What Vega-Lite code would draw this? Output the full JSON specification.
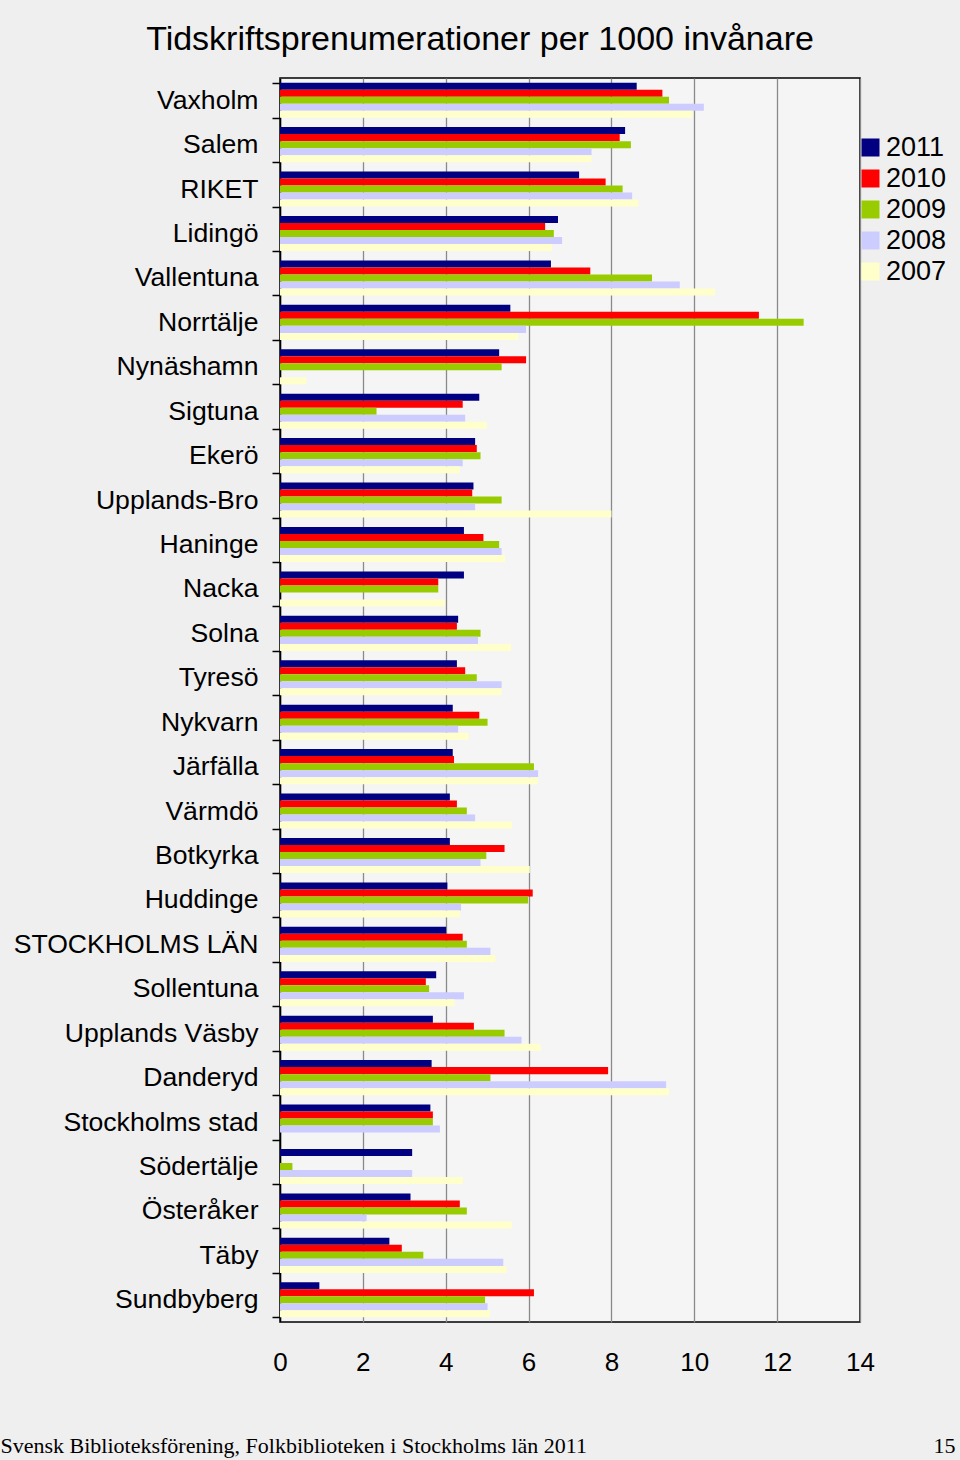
{
  "$schema": "https://vega.github.io/schema/vega-lite/v6.json",
  "autosize": "none",
  "width": 580,
  "height": 1244,
  "padding": {"left": 280, "top": 78, "right": 100, "bottom": 138},
  "background": "#efefef",
  "title": {"text": "Tidskriftsprenumerationer per 1000 invånare", "font": "Liberation Sans", "fontSize": 34, "fontWeight": "normal", "color": "#000000", "anchor": "middle", "dx": -90, "offset": 8},
  "config": {"view": {"stroke": "#000000", "strokeWidth": 1.5, "fill": "#f5f5f5"}, "font": "Liberation Sans"},
  "datasets": {
    "rows": [
      {"kommun": "Vaxholm", "year": "2011", "value": 8.61}, {"kommun": "Vaxholm", "year": "2010", "value": 9.23}, {"kommun": "Vaxholm", "year": "2009", "value": 9.39}, {"kommun": "Vaxholm", "year": "2008", "value": 10.23}, {"kommun": "Vaxholm", "year": "2007", "value": 9.96},
      {"kommun": "Salem", "year": "2011", "value": 8.33}, {"kommun": "Salem", "year": "2010", "value": 8.20}, {"kommun": "Salem", "year": "2009", "value": 8.47}, {"kommun": "Salem", "year": "2008", "value": 7.52}, {"kommun": "Salem", "year": "2007", "value": 7.52},
      {"kommun": "RIKET", "year": "2011", "value": 7.22}, {"kommun": "RIKET", "year": "2010", "value": 7.86}, {"kommun": "RIKET", "year": "2009", "value": 8.27}, {"kommun": "RIKET", "year": "2008", "value": 8.50}, {"kommun": "RIKET", "year": "2007", "value": 8.65},
      {"kommun": "Lidingö", "year": "2011", "value": 6.71}, {"kommun": "Lidingö", "year": "2010", "value": 6.40}, {"kommun": "Lidingö", "year": "2009", "value": 6.61}, {"kommun": "Lidingö", "year": "2008", "value": 6.81}, {"kommun": "Lidingö", "year": "2007", "value": 6.56},
      {"kommun": "Vallentuna", "year": "2011", "value": 6.54}, {"kommun": "Vallentuna", "year": "2010", "value": 7.49}, {"kommun": "Vallentuna", "year": "2009", "value": 8.98}, {"kommun": "Vallentuna", "year": "2008", "value": 9.65}, {"kommun": "Vallentuna", "year": "2007", "value": 10.50},
      {"kommun": "Norrtälje", "year": "2011", "value": 5.56}, {"kommun": "Norrtälje", "year": "2010", "value": 11.56}, {"kommun": "Norrtälje", "year": "2009", "value": 12.64}, {"kommun": "Norrtälje", "year": "2008", "value": 5.94}, {"kommun": "Norrtälje", "year": "2007", "value": 5.75},
      {"kommun": "Nynäshamn", "year": "2011", "value": 5.29}, {"kommun": "Nynäshamn", "year": "2010", "value": 5.94}, {"kommun": "Nynäshamn", "year": "2009", "value": 5.35}, {"kommun": "Nynäshamn", "year": "2007", "value": 0.64},
      {"kommun": "Sigtuna", "year": "2011", "value": 4.81}, {"kommun": "Sigtuna", "year": "2010", "value": 4.41}, {"kommun": "Sigtuna", "year": "2009", "value": 2.33}, {"kommun": "Sigtuna", "year": "2008", "value": 4.47}, {"kommun": "Sigtuna", "year": "2007", "value": 4.99},
      {"kommun": "Ekerö", "year": "2011", "value": 4.71}, {"kommun": "Ekerö", "year": "2010", "value": 4.75}, {"kommun": "Ekerö", "year": "2009", "value": 4.84}, {"kommun": "Ekerö", "year": "2008", "value": 4.41}, {"kommun": "Ekerö", "year": "2007", "value": 4.34},
      {"kommun": "Upplands-Bro", "year": "2011", "value": 4.67}, {"kommun": "Upplands-Bro", "year": "2010", "value": 4.64}, {"kommun": "Upplands-Bro", "year": "2009", "value": 5.35}, {"kommun": "Upplands-Bro", "year": "2008", "value": 4.71}, {"kommun": "Upplands-Bro", "year": "2007", "value": 8.00},
      {"kommun": "Haninge", "year": "2011", "value": 4.44}, {"kommun": "Haninge", "year": "2010", "value": 4.91}, {"kommun": "Haninge", "year": "2009", "value": 5.29}, {"kommun": "Haninge", "year": "2008", "value": 5.35}, {"kommun": "Haninge", "year": "2007", "value": 5.43},
      {"kommun": "Nacka", "year": "2011", "value": 4.44}, {"kommun": "Nacka", "year": "2010", "value": 3.82}, {"kommun": "Nacka", "year": "2009", "value": 3.82}, {"kommun": "Nacka", "year": "2007", "value": 3.98},
      {"kommun": "Solna", "year": "2011", "value": 4.30}, {"kommun": "Solna", "year": "2010", "value": 4.27}, {"kommun": "Solna", "year": "2009", "value": 4.84}, {"kommun": "Solna", "year": "2008", "value": 4.78}, {"kommun": "Solna", "year": "2007", "value": 5.58},
      {"kommun": "Tyresö", "year": "2011", "value": 4.27}, {"kommun": "Tyresö", "year": "2010", "value": 4.47}, {"kommun": "Tyresö", "year": "2009", "value": 4.75}, {"kommun": "Tyresö", "year": "2008", "value": 5.35}, {"kommun": "Tyresö", "year": "2007", "value": 5.35},
      {"kommun": "Nykvarn", "year": "2011", "value": 4.17}, {"kommun": "Nykvarn", "year": "2010", "value": 4.81}, {"kommun": "Nykvarn", "year": "2009", "value": 5.01}, {"kommun": "Nykvarn", "year": "2008", "value": 4.30}, {"kommun": "Nykvarn", "year": "2007", "value": 4.55},
      {"kommun": "Järfälla", "year": "2011", "value": 4.17}, {"kommun": "Järfälla", "year": "2010", "value": 4.20}, {"kommun": "Järfälla", "year": "2009", "value": 6.13}, {"kommun": "Järfälla", "year": "2008", "value": 6.23}, {"kommun": "Järfälla", "year": "2007", "value": 6.23},
      {"kommun": "Värmdö", "year": "2011", "value": 4.10}, {"kommun": "Värmdö", "year": "2010", "value": 4.27}, {"kommun": "Värmdö", "year": "2009", "value": 4.51}, {"kommun": "Värmdö", "year": "2008", "value": 4.71}, {"kommun": "Värmdö", "year": "2007", "value": 5.60},
      {"kommun": "Botkyrka", "year": "2011", "value": 4.10}, {"kommun": "Botkyrka", "year": "2010", "value": 5.42}, {"kommun": "Botkyrka", "year": "2009", "value": 4.98}, {"kommun": "Botkyrka", "year": "2008", "value": 4.84}, {"kommun": "Botkyrka", "year": "2007", "value": 6.03},
      {"kommun": "Huddinge", "year": "2011", "value": 4.04}, {"kommun": "Huddinge", "year": "2010", "value": 6.10}, {"kommun": "Huddinge", "year": "2009", "value": 5.99}, {"kommun": "Huddinge", "year": "2008", "value": 4.37}, {"kommun": "Huddinge", "year": "2007", "value": 4.34},
      {"kommun": "STOCKHOLMS LÄN", "year": "2011", "value": 4.01}, {"kommun": "STOCKHOLMS LÄN", "year": "2010", "value": 4.41}, {"kommun": "STOCKHOLMS LÄN", "year": "2009", "value": 4.51}, {"kommun": "STOCKHOLMS LÄN", "year": "2008", "value": 5.08}, {"kommun": "STOCKHOLMS LÄN", "year": "2007", "value": 5.20},
      {"kommun": "Sollentuna", "year": "2011", "value": 3.77}, {"kommun": "Sollentuna", "year": "2010", "value": 3.52}, {"kommun": "Sollentuna", "year": "2009", "value": 3.60}, {"kommun": "Sollentuna", "year": "2008", "value": 4.44}, {"kommun": "Sollentuna", "year": "2007", "value": 4.21},
      {"kommun": "Upplands Väsby", "year": "2011", "value": 3.69}, {"kommun": "Upplands Väsby", "year": "2010", "value": 4.68}, {"kommun": "Upplands Väsby", "year": "2009", "value": 5.42}, {"kommun": "Upplands Väsby", "year": "2008", "value": 5.83}, {"kommun": "Upplands Väsby", "year": "2007", "value": 6.29},
      {"kommun": "Danderyd", "year": "2011", "value": 3.66}, {"kommun": "Danderyd", "year": "2010", "value": 7.92}, {"kommun": "Danderyd", "year": "2009", "value": 5.08}, {"kommun": "Danderyd", "year": "2008", "value": 9.32}, {"kommun": "Danderyd", "year": "2007", "value": 9.39},
      {"kommun": "Stockholms stad", "year": "2011", "value": 3.63}, {"kommun": "Stockholms stad", "year": "2010", "value": 3.69}, {"kommun": "Stockholms stad", "year": "2009", "value": 3.69}, {"kommun": "Stockholms stad", "year": "2008", "value": 3.86},
      {"kommun": "Södertälje", "year": "2011", "value": 3.19}, {"kommun": "Södertälje", "year": "2009", "value": 0.30}, {"kommun": "Södertälje", "year": "2008", "value": 3.19}, {"kommun": "Södertälje", "year": "2007", "value": 4.41},
      {"kommun": "Österåker", "year": "2011", "value": 3.15}, {"kommun": "Österåker", "year": "2010", "value": 4.34}, {"kommun": "Österåker", "year": "2009", "value": 4.51}, {"kommun": "Österåker", "year": "2008", "value": 2.09}, {"kommun": "Österåker", "year": "2007", "value": 5.59},
      {"kommun": "Täby", "year": "2011", "value": 2.64}, {"kommun": "Täby", "year": "2010", "value": 2.94}, {"kommun": "Täby", "year": "2009", "value": 3.46}, {"kommun": "Täby", "year": "2008", "value": 5.39}, {"kommun": "Täby", "year": "2007", "value": 5.47},
      {"kommun": "Sundbyberg", "year": "2011", "value": 0.95}, {"kommun": "Sundbyberg", "year": "2010", "value": 6.13}, {"kommun": "Sundbyberg", "year": "2009", "value": 4.95}, {"kommun": "Sundbyberg", "year": "2008", "value": 5.01}, {"kommun": "Sundbyberg", "year": "2007", "value": 5.07}
    ]
  },
  "data": {"name": "rows"},
  "mark": {"type": "bar"},
  "encoding": {
    "y": {
      "field": "kommun", "type": "nominal", "sort": null,
      "scale": {"paddingInner": 0.21, "paddingOuter": 0.105},
      "axis": {
        "title": "15", "titleAngle": 0, "titleX": 675, "titleY": 1374, "titleAlign": "right", "titleBaseline": "alphabetic",
        "titleFont": "Liberation Serif", "titleFontSize": 22, "titleFontWeight": "normal", "titleColor": "#000000",
        "tickBand": "extent", "tickSize": 8, "tickColor": "#000000", "tickWidth": 1.5,
        "domainColor": "#000000", "domainWidth": 1.5,
        "labelFontSize": 26.6, "labelColor": "#000000", "labelPadding": 14, "labelLimit": 300, "grid": false
      }
    },
    "yOffset": {"field": "year", "type": "nominal", "sort": ["2011", "2010", "2009", "2008", "2007"]},
    "x": {
      "field": "value", "type": "quantitative",
      "scale": {"domain": [0, 14], "nice": false},
      "axis": {
        "values": [0, 2, 4, 6, 8, 10, 12, 14], "ticks": false, "domain": false,
        "labelPadding": 27, "labelFontSize": 26, "labelColor": "#000000", "labelFlush": false, "labelOverlap": false,
        "gridColor": "#8a8a8a", "gridWidth": 1.3,
        "title": "Svensk Biblioteksförening, Folkbiblioteken i Stockholms län 2011",
        "titleX": -280, "titleY": 130, "titleAlign": "left", "titleBaseline": "alphabetic", "titleAnchor": "start",
        "titleFont": "Liberation Serif", "titleFontSize": 22, "titleFontWeight": "normal", "titleColor": "#000000"
      }
    },
    "color": {
      "field": "year", "type": "nominal",
      "scale": {"domain": ["2011", "2010", "2009", "2008", "2007"], "range": ["#000080", "#ff0000", "#99cc00", "#ccccff", "#ffffcc"]},
      "legend": {
        "orient": "none", "legendX": 577, "legendY": 56, "title": null, "padding": 0,
        "labelFontSize": 27, "labelColor": "#000000", "labelOffset": 2,
        "symbolType": "square", "symbolSize": 324, "symbolStrokeWidth": 0, "symbolOpacity": 1, "rowPadding": 3
      }
    }
  }
}
